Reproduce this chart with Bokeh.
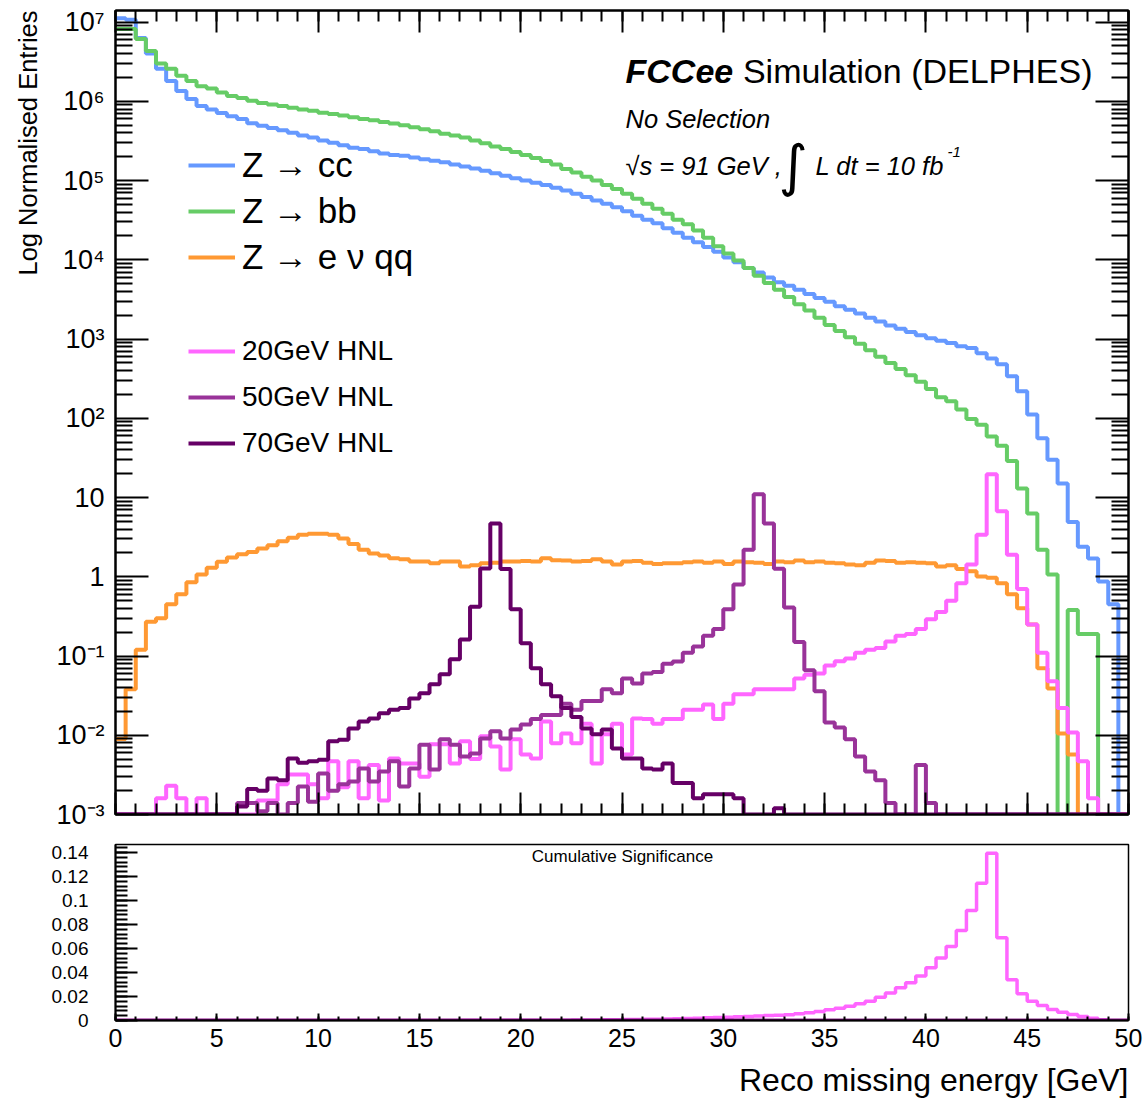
import math
from bokeh.plotting import figure
from bokeh.models import (Range1d, FixedTicker, LinearAxis, LogAxis, Legend,
                          LegendItem, Label, Title)
from bokeh.layouts import column
from bokeh.embed import file_html
from bokeh.resources import INLINE

# ---------------- data (100 bins of 0.5 GeV, 0-50 GeV) ----------------
E_MIN, BIN_W, N_BINS = 0.0, 0.5, 100
edges = [E_MIN + BIN_W * i for i in range(N_BINS + 1)]

z_cc = [1.12e7, 1.07e7, 6.3e6, 4.0e6, 2.57e6, 1.8e6, 1.35e6, 1.07e6, 8.7e5, 7.9e5,
        7.1e5, 6.5e5, 6.0e5, 5.3e5, 4.9e5, 4.6e5, 4.3e5, 4.0e5, 3.7e5, 3.5e5,
        3.2e5, 3.0e5, 2.8e5, 2.6e5, 2.5e5, 2.35e5, 2.2e5, 2.1e5, 2.05e5, 1.95e5,
        1.86e5, 1.78e5, 1.7e5, 1.6e5, 1.5e5, 1.42e5, 1.33e5, 1.24e5, 1.15e5, 1.07e5,
        1.0e5, 9.4e4, 8.8e4, 8.1e4, 7.5e4, 6.8e4, 6.2e4, 5.6e4, 5.1e4, 4.6e4,
        4.1e4, 3.6e4, 3.2e4, 2.9e4, 2.5e4, 2.2e4, 1.9e4, 1.66e4, 1.45e4, 1.26e4,
        1.07e4, 9.3e3, 7.9e3, 6.9e3, 6.0e3, 5.2e3, 4.7e3, 4.2e3, 3.7e3, 3.3e3,
        2.95e3, 2.6e3, 2.35e3, 2.1e3, 1.86e3, 1.66e3, 1.48e3, 1.35e3, 1.23e3, 1.12e3,
        1.02e3, 9.5e2, 8.9e2, 8.1e2, 7.7e2, 6.6e2, 5.7e2, 4.8e2, 3.4e2, 2.2e2,
        1.12e2, 56, 30, 15, 4.9, 2.4, 1.7, 0.87, 0.45, 0]

z_bb = [8.2e6, 8.2e6, 6.1e6, 4.3e6, 3.0e6, 2.57e6, 2.1e6, 1.8e6, 1.55e6, 1.45e6,
        1.29e6, 1.17e6, 1.1e6, 1.02e6, 9.5e5, 9.1e5, 8.7e5, 8.3e5, 7.9e5, 7.6e5,
        7.2e5, 6.9e5, 6.6e5, 6.3e5, 6.0e5, 5.75e5, 5.5e5, 5.25e5, 5.0e5, 4.7e5,
        4.45e5, 4.2e5, 3.9e5, 3.7e5, 3.5e5, 3.2e5, 2.95e5, 2.7e5, 2.5e5, 2.3e5,
        2.1e5, 1.93e5, 1.76e5, 1.6e5, 1.4e5, 1.26e5, 1.12e5, 1.0e5, 8.8e4, 7.8e4,
        6.8e4, 5.9e4, 5.1e4, 4.4e4, 3.8e4, 3.2e4, 2.8e4, 2.35e4, 1.9e4, 1.48e4,
        1.2e4, 9.8e3, 7.9e3, 6.3e3, 5.1e3, 4.2e3, 3.4e3, 2.75e3, 2.3e3, 1.86e3,
        1.5e3, 1.26e3, 1.05e3, 8.7e2, 7.2e2, 6.0e2, 5.0e2, 4.2e2, 3.5e2, 2.9e2,
        2.35e2, 1.84e2, 1.64e2, 1.29e2, 98, 83, 59, 45, 29, 13,
        6.3, 2.2, 1.07, 0, 0.38, 0.19, 0.19, 0, 0, 0]

z_enuqq = [0.009, 0.038, 0.12, 0.27, 0.30, 0.45, 0.60, 0.85, 1.07, 1.3,
           1.55, 1.75, 1.92, 2.05, 2.28, 2.5, 2.8, 3.1, 3.4, 3.5,
           3.5, 3.4, 3.05, 2.6, 2.2, 1.97, 1.85, 1.71, 1.66, 1.56,
           1.56, 1.48, 1.56, 1.56, 1.35, 1.40, 1.48, 1.50, 1.56, 1.56,
           1.58, 1.56, 1.71, 1.62, 1.60, 1.56, 1.58, 1.66, 1.56, 1.43,
           1.56, 1.58, 1.50, 1.45, 1.48, 1.48, 1.52, 1.56, 1.50, 1.56,
           1.45, 1.56, 1.52, 1.50, 1.45, 1.56, 1.52, 1.60, 1.52, 1.56,
           1.50, 1.48, 1.43, 1.40, 1.50, 1.60, 1.58, 1.50, 1.52, 1.50,
           1.48, 1.35, 1.40, 1.25, 1.17, 1.01, 0.97, 0.83, 0.60, 0.40,
           0.25, 0.07, 0.039, 0.0105, 0.0057, 0, 0, 0, 0, 0]

hnl20 = [0, 0, 0, 0, 1.6e-3, 2.3e-3, 1.6e-3, 0, 1.6e-3, 0,
         0, 0, 0, 0, 1.5e-3, 1.5e-3, 2.4e-3, 3.2e-3, 3.2e-3, 2.4e-3,
         1.6e-3, 4.7e-3, 2.2e-3, 4.7e-3, 1.6e-3, 4.2e-3, 1.5e-3, 5.1e-3, 4.4e-3, 4.4e-3,
         3.0e-3, 7.7e-3, 7.7e-3, 4.4e-3, 8.4e-3, 5.0e-3, 9.7e-3, 7.2e-3, 3.7e-3, 8.9e-3,
         5.7e-3, 5.1e-3, 0.0149, 7.9e-3, 0.0105, 7.9e-3, 0.014, 4.4e-3, 0.0103, 0.014,
         5.7e-3, 0.0163, 0.016, 0.014, 0.016, 0.016, 0.021, 0.021, 0.0245, 0.016,
         0.025, 0.033, 0.033, 0.038, 0.038, 0.038, 0.038, 0.052, 0.058, 0.06,
         0.076, 0.086, 0.093, 0.11, 0.12, 0.126, 0.153, 0.18, 0.19, 0.22,
         0.29, 0.36, 0.5, 0.83, 1.43, 3.4, 19.6, 6.7, 1.9, 0.7,
         0.25, 0.11, 0.048, 0.022, 0.0108, 0.0047, 0.0016, 0, 0, 0]

hnl50 = [0, 0, 0, 0, 0, 0, 0, 0, 0, 0,
         0, 0, 1.4e-3, 1.4e-3, 1.1e-3, 1.4e-3, 0, 1.4e-3, 2.25e-3, 1.45e-3,
         3.3e-3, 2.0e-3, 2.4e-3, 2.6e-3, 3.8e-3, 2.6e-3, 3.5e-3, 4.7e-3, 2.25e-3, 3.8e-3,
         7.6e-3, 3.7e-3, 8.9e-3, 7.6e-3, 5.4e-3, 5.9e-3, 9.1e-3, 0.0112, 9.1e-3, 0.0118,
         0.0137, 0.016, 0.018, 0.018, 0.025, 0.021, 0.027, 0.027, 0.038, 0.034,
         0.052, 0.045, 0.06, 0.063, 0.08, 0.085, 0.11, 0.132, 0.18, 0.22,
         0.39, 0.8, 2.2, 11.0, 4.7, 1.26, 0.41, 0.15, 0.066, 0.036,
         0.0145, 0.0125, 8.9e-3, 5.4e-3, 3.5e-3, 2.7e-3, 1.4e-3, 0, 0, 4.2e-3,
         1.4e-3, 0, 0, 0, 0, 0, 0, 0, 0, 0,
         0, 0, 0, 0, 0, 0, 0, 0, 0, 0]

hnl70 = [0, 0, 0, 0, 0, 0, 0, 0, 0, 0,
         0, 0, 1.26e-3, 2.1e-3, 2.0e-3, 2.85e-3, 2.7e-3, 5.1e-3, 4.5e-3, 4.7e-3,
         4.9e-3, 8.4e-3, 8.8e-3, 0.0122, 0.0149, 0.0163, 0.019, 0.021, 0.022, 0.029,
         0.034, 0.044, 0.059, 0.091, 0.162, 0.42, 1.27, 4.7, 1.25, 0.39,
         0.145, 0.07, 0.044, 0.031, 0.022, 0.017, 0.0122, 0.0103, 0.0118, 6.8e-3,
         5.1e-3, 5.1e-3, 3.8e-3, 3.7e-3, 4.4e-3, 2.5e-3, 2.5e-3, 1.6e-3, 1.8e-3, 1.8e-3,
         1.8e-3, 1.6e-3, 0, 0, 0, 1.2e-3, 0, 0, 0, 0,
         0, 0, 0, 0, 0, 0, 0, 0, 0, 0,
         0, 0, 0, 0, 0, 0, 0, 0, 0, 0,
         0, 0, 0, 0, 0, 0, 0, 0, 0, 0]

# cumulative significance (lower pad)
sig20 = [0, 0, 0, 0, 0, 0, 0, 0, 0, 0,
         0, 0, 0, 0, 0, 0, 0, 0, 0, 0,
         0.0001, 0.0001, 0.0001, 0.0001, 0.0001, 0.0001, 0.0001, 0.0001, 0.0001, 0.0001,
         0.0001, 0.0001, 0.0001, 0.0001, 0.0002, 0.0002, 0.0002, 0.0002, 0.0002, 0.0002,
         0.0002, 0.0002, 0.0003, 0.0003, 0.0003, 0.0004, 0.0004, 0.0005, 0.0006, 0.0007,
         0.0008, 0.0009, 0.0010, 0.0011, 0.0013, 0.0015, 0.0017, 0.0019, 0.0022, 0.0025,
         0.0028, 0.0031, 0.0034, 0.0037, 0.0041, 0.0044, 0.0047, 0.0056, 0.0064, 0.0075,
         0.0089, 0.0103, 0.0119, 0.0139, 0.0161, 0.0194, 0.023, 0.0272, 0.0314, 0.037,
         0.0439, 0.052, 0.0617, 0.075, 0.0917, 0.1145, 0.1395, 0.0689, 0.0339, 0.0222,
         0.0161, 0.0125, 0.0092, 0.0069, 0.005, 0.0033, 0.0019, 0.0006, 0, 0]

sig50 = [0, 0, 0, 0, 0, 0, 0, 0, 0, 0,
         0, 0, 0, 0, 0, 0, 0, 0, 0, 0,
         0, 0, 0, 0, 0, 0, 0, 0, 0, 0,
         0, 0, 0, 0, 0, 0, 0, 0, 0, 0,
         0, 0, 0, 0, 0, 0, 0, 0, 0, 0,
         0, 0, 0, 0, 0, 0, 0, 0, 0, 0,
         0, 0, 0, 0, 0, 0, 0, 0, 0, 0,
         0, 0, 0, 0, 0, 0, 0, 0, 0, 0,
         0, 0, 0, 0, 0, 0, 0, 0, 0, 0,
         0, 0, 0, 0, 0, 0, 0, 0, 0, 0]

sig70 = [0, 0, 0, 0, 0, 0, 0, 0, 0, 0,
         0, 0, 0, 0, 0, 0, 0, 0, 0, 0,
         0, 0, 0, 0, 0, 0, 0, 0, 0, 0,
         0, 0, 0, 0, 0, 0, 0, 0, 0, 0,
         0, 0, 0, 0, 0, 0, 0, 0, 0, 0,
         0, 0, 0, 0, 0, 0, 0, 0, 0, 0,
         0, 0, 0, 0, 0, 0, 0, 0, 0, 0,
         0, 0, 0, 0, 0, 0, 0, 0, 0, 0,
         0, 0, 0, 0, 0, 0, 0, 0, 0, 0,
         0, 0, 0, 0, 0, 0, 0, 0, 0, 0]

bkg_labels = ["Z \u2192 cc", "Z \u2192 bb", "Z \u2192 e \u03bd qq"]
sig_labels = ["20GeV HNL", "50GeV HNL", "70GeV HNL"]
x_major = [0, 5, 10, 15, 20, 25, 30, 35, 40, 45, 50]
sig_y_major = [0.0, 0.02, 0.04, 0.06, 0.08, 0.1, 0.12, 0.14]
sig_y_labels = ["0", "0.02", "0.04", "0.06", "0.08", "0.1", "0.12", "0.14"]

# ---------------- styling ----------------
FONT = "Liberation Sans"
C_CC, C_BB, C_EN = "#6699ff", "#66cc66", "#ff9933"
C_20, C_50, C_70 = "#ff66ff", "#993399", "#660066"
YMIN, YMAX = 1e-3, 1.4e7
FL, FB1, FB2 = 115, 814, 1020  # frame left / bottoms on page (for annotation placement)

SUP = str.maketrans("-0123456789", "\u207b\u2070\u00b9\u00b2\u00b3\u2074\u2075\u2076\u2077\u2078\u2079")


def hist_y(vals, floor=None):
    v = [max(x, floor) for x in vals] if floor is not None else list(vals)
    return v + [v[-1]]


def lab(fig, text, px, py, size, fb, style="normal", align="left",
        baseline="middle", angle=0.0, font=FONT):
    fig.add_layout(Label(x=px - FL, y=fb - py, x_units="screen", y_units="screen",
                         text=text, text_font=font, text_font_size=f"{size}px",
                         text_font_style=style, text_align=align,
                         text_baseline=baseline, angle=angle, text_color="black"))


def style_axis(ax, tin, tmin, labels=True, size="26px", standoff=8):
    ax.axis_line_color = "black"
    ax.axis_line_width = 2
    ax.major_tick_in = tin
    ax.major_tick_out = 0
    ax.minor_tick_in = tmin
    ax.minor_tick_out = 0
    ax.major_tick_line_width = 2
    ax.minor_tick_line_width = 2
    ax.major_tick_line_color = "black"
    ax.minor_tick_line_color = "black"
    ax.major_label_text_font = FONT
    ax.major_label_text_color = "black"
    ax.major_label_standoff = standoff
    if labels:
        ax.major_label_text_font_size = size
    else:
        ax.major_label_text_font_size = "1px"
        ax.major_label_text_alpha = 0.0
        ax.major_label_standoff = 0


# ---------------- main pad ----------------
x_ticker = FixedTicker(ticks=x_major, minor_ticks=list(range(0, 51)))
y_major = [10.0 ** k for k in range(-3, 8)]
y_minor = [m * 10.0 ** k for k in range(-3, 8) for m in range(2, 10)]
y_ticker = FixedTicker(ticks=y_major, minor_ticks=y_minor)


def dec_label(k):
    if k == 0:
        return "1"
    if k == 1:
        return "10"
    return "10" + str(k).translate(SUP)


p = figure(frame_width=1013, frame_height=804, x_range=Range1d(0, 50),
           y_range=Range1d(YMIN, YMAX), y_axis_type="log",
           output_backend="svg", toolbar_location=None,
           min_border_left=115, min_border_right=20, min_border_top=10,
           min_border_bottom=16)
p.grid.visible = False
p.outline_line_color = "black"
p.outline_line_width = 2
p.background_fill_color = "white"
p.border_fill_color = "white"

xb = p.xaxis[0]
xb.ticker = x_ticker
style_axis(xb, 22, 11, labels=False)
yl = p.yaxis[0]
yl.ticker = y_ticker
style_axis(yl, 33, 17, labels=True, size="27px", standoff=11)
yl.major_label_overrides = {v: dec_label(k) for v, k in zip(y_major, range(-3, 8))}

xt = LinearAxis(ticker=x_ticker)
style_axis(xt, 22, 11, labels=False)
p.add_layout(xt, "above")
yr = LogAxis(ticker=y_ticker)
style_axis(yr, 33, 17, labels=False)
p.add_layout(yr, "right")

p.add_layout(Title(text="Log Normalised Entries", align="right", text_font=FONT,
                   text_font_size="25.5px", text_font_style="normal",
                   text_color="black", standoff=23, offset=0), "left")

LW = 4
r_cc = p.step(edges, hist_y(z_cc, YMIN), mode="after", line_color=C_CC, line_width=LW)
r_bb = p.step(edges, hist_y(z_bb, YMIN), mode="after", line_color=C_BB, line_width=LW)
r_en = p.step(edges, hist_y(z_enuqq, YMIN), mode="after", line_color=C_EN, line_width=LW)
r_20 = p.step(edges, hist_y(hnl20, YMIN), mode="after", line_color=C_20, line_width=LW)
r_50 = p.step(edges, hist_y(hnl50, YMIN), mode="after", line_color=C_50, line_width=LW)
r_70 = p.step(edges, hist_y(hnl70, YMIN), mode="after", line_color=C_70, line_width=LW)
# small black marker shown in the middle of each legend line (ROOT style)
r_dot = p.scatter(x=[], y=[], size=2.5, color="black")

common = dict(glyph_width=47, glyph_height=46, label_height=46, spacing=0, padding=0,
              margin=0, label_standoff=7, label_text_font=FONT,
              label_text_color="black", border_line_color=None,
              background_fill_alpha=0.0)
leg1 = Legend(items=[LegendItem(label=l, renderers=[r, r_dot]) for l, r in
                     zip(bkg_labels, [r_cc, r_bb, r_en])],
              location=(73, 534), label_text_font_size="35px", **common)
leg2 = Legend(items=[LegendItem(label=l, renderers=[r, r_dot]) for l, r in
                     zip(sig_labels, [r_20, r_50, r_70])],
              location=(73, 348), label_text_font_size="28px", **common)
p.add_layout(leg1)
p.add_layout(leg2)

# texts (positions of text centres on the page)
lab(p, "FCCee", 625, 70, 34, FB1, style="bold italic")
lab(p, "Simulation (DELPHES)", 1092, 70, 34, FB1, align="right")
lab(p, "No Selection", 625, 118, 25.5, FB1, style="italic")
lab(p, "\u221as = 91 GeV ,", 625, 165, 25.5, FB1, style="italic")
lab(p, "\u222b", 778, 165, 56, FB1, font="DejaVu Sans")
lab(p, "L dt = 10 fb", 815, 165, 25.5, FB1, style="italic")
lab(p, "-1", 947, 151, 15, FB1, style="italic")

# ---------------- lower pad ----------------
p2 = figure(frame_width=1013, frame_height=176, x_range=p.x_range,
            y_range=Range1d(0, 0.1467), output_backend="svg",
            toolbar_location=None, min_border_left=115, min_border_right=20,
            min_border_top=14, min_border_bottom=84)
p2.grid.visible = False
p2.outline_line_color = "black"
p2.outline_line_width = 1.5
p2.background_fill_color = "white"
p2.border_fill_color = "white"

xb2 = p2.xaxis[0]
xb2.ticker = x_ticker
style_axis(xb2, 7, 4, labels=True, size="25px", standoff=8)
yl2 = p2.yaxis[0]
sig_minor = [round(0.004 * i, 3) for i in range(0, 37)]
yl2.ticker = FixedTicker(ticks=sig_y_major, minor_ticks=sig_minor)
style_axis(yl2, 22, 12, labels=True, size="19px", standoff=27)
yl2.major_label_overrides = dict(zip(sig_y_major, sig_y_labels))

p2.add_layout(Title(text="Reco missing energy [GeV]", align="right", text_font=FONT,
                    text_font_size="32px", text_font_style="normal",
                    text_color="black", standoff=20, offset=0), "below")

p2.step(edges, hist_y(sig20), mode="after", line_color=C_20, line_width=3.5)
p2.step(edges, hist_y(sig50), mode="after", line_color=C_50, line_width=3.5)
p2.step(edges, hist_y(sig70), mode="after", line_color=C_70, line_width=3.5)

lab(p2, "Cumulative Significance", 622, 856, 17, FB2, align="center")

layout = column(p, p2, spacing=0)
open("out.html", "w").write(file_html(layout, INLINE))
